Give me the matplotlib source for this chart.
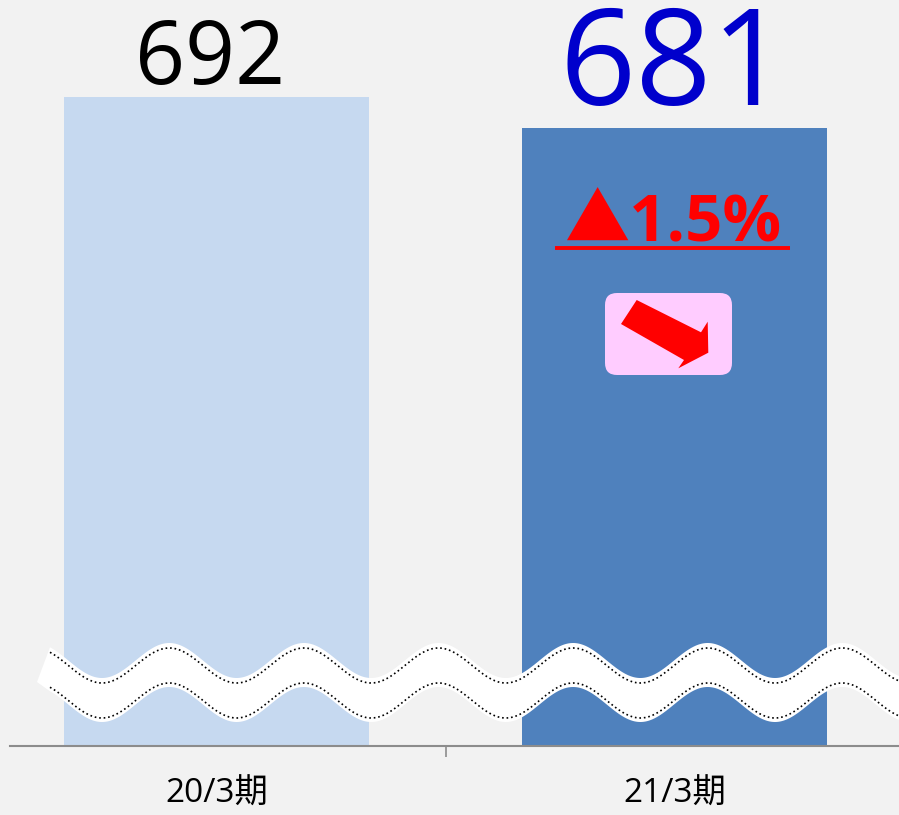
import matplotlib.pyplot as plt
import numpy as np
from matplotlib.patches import FancyBboxPatch, Polygon

# chart data
categories = ['20/3期', '21/3期']
values = [692, 681]
bar_colors = ['#c6d9f0', '#4f81bd']
label_colors = ['black', '#0000cc']
change_label = '▲1.5%'

fam = ['Open Sans', 'Noto Sans CJK JP', 'DejaVu Sans']
plt.rcParams['font.family'] = fam

W, H = 899, 815
fig = plt.figure(figsize=(W / 100, H / 100), dpi=100)
fig.patch.set_facecolor('#f2f2f2')

ax = fig.add_axes([10 / W, 69 / H, 889 / W, 746 / H])
ax.set_facecolor('#f2f2f2')
x = np.arange(len(categories))
ax.bar(x, values, width=0.666, color=bar_colors, zorder=2)
ax.set_xlim(-0.4509, 1.490)
ax.set_ylim(461.7, 726.4)  # broken axis, does not start at 0

for s in ['left', 'top', 'right']:
    ax.spines[s].set_visible(False)
ax.spines['bottom'].set_color('#8c8c8c')
ax.spines['bottom'].set_linewidth(1.5)
ax.set_yticks([])
ax.set_xticks(x, categories, fontsize=24)
ax.tick_params(axis='x', which='major', length=0, pad=23)
ax.set_xticks([0.5], minor=True)
ax.tick_params(axis='x', which='minor', length=8, width=1.2, color='#8c8c8c')

# value labels
ax.annotate(str(values[0]), (x[0], values[0]), xytext=(-4.7, 9.5), textcoords='offset points',
            ha='center', va='baseline', fontsize=63, color=label_colors[0])
ax.annotate(str(values[1]), (x[1], values[1]), xytext=(-0.7, 16.6), textcoords='offset points',
            ha='center', va='baseline', fontsize=96, color=label_colors[1])

# overlay in pixel coords for decorations
ov = fig.add_axes([0, 0, 1, 1])
ov.set_xlim(0, W)
ov.set_ylim(H, 0)
ov.axis('off')
ov.patch.set_alpha(0)

ov.text(673, 242, change_label, ha='center', va='baseline', fontsize=47,
        fontweight='bold', color='#ff0000')
ov.plot([555, 790], [248, 248], color='#ff0000', lw=2.8, solid_capstyle='butt')

ov.add_patch(FancyBboxPatch((605, 293), 127, 82, boxstyle='round,pad=0,rounding_size=12',
                            fc='#ffccff', ec='none'))
arrow_pts = [(636.7, 300), (701, 332.3), (707.7, 321.7), (708.3, 352.7),
             (678.3, 368.3), (684, 360), (621, 324)]
ov.add_patch(Polygon(arrow_pts, closed=True, fc='#ff0000', ec='none'))

# wavy axis break
xs = np.linspace(50, 910, 800)
yu = 665.5 + 17.5 * np.cos(2 * np.pi * (xs - 102) / 134.6)
yl = yu + 35
band = list(zip(xs, yu - 5)) + list(zip(xs[::-1], (yl + 4)[::-1])) + [(37, 682)]
ov.add_patch(Polygon(band, closed=True, fc='white', ec='none'))
ov.plot(xs, yu, color='black', lw=1.2, linestyle=(0, (1, 1.7)))
ov.plot(xs, yl, color='black', lw=1.2, linestyle=(0, (1, 1.7)))

fig.savefig('out.png', dpi=100, facecolor=fig.get_facecolor())
